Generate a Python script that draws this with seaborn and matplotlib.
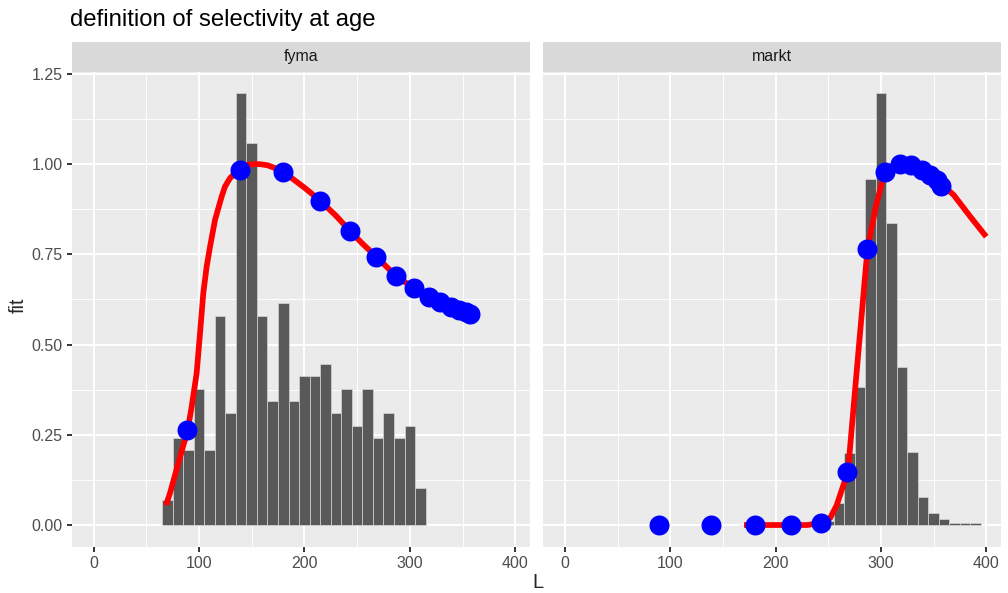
import numpy as np
import pandas as pd
import matplotlib
matplotlib.use("Agg")
import matplotlib.pyplot as plt
import seaborn as sns
from matplotlib.patches import Rectangle
from matplotlib.ticker import FixedLocator, FormatStrFormatter

# ---------------- data ----------------
panels = ["fyma", "markt"]

# histogram (scaled length distribution), bin centres and heights
fyma_bin_L = [70, 80, 90, 100, 110, 120, 130, 140, 150, 160, 170, 180, 190,
              200, 210, 220, 230, 240, 250, 260, 270, 280, 290, 300, 310]
fyma_bin_h = [0.069, 0.240, 0.208, 0.376, 0.208, 0.580, 0.311, 1.196, 1.058,
              0.580, 0.344, 0.616, 0.344, 0.413, 0.413, 0.445, 0.311, 0.376,
              0.274, 0.376, 0.242, 0.311, 0.242, 0.274, 0.103]

markt_bin_L = [170, 180, 190, 200, 210, 220, 230, 240, 250, 260, 270, 280,
               290, 300, 310, 320, 330, 340, 350, 360, 370, 380, 390]
markt_bin_h = [0.0, 0.0, 0.0, 0.0, 0.0, 0.0, 0.0, 0.0, 0.01, 0.06, 0.20, 0.383,
               0.959, 1.196, 0.836, 0.439, 0.201, 0.078, 0.034, 0.016, 0.005,
               0.005, 0.005]

# selectivity curves
fyma_curve_L = [68.7, 72.5, 80.4, 89.3, 93.1, 97.8, 101, 104.1, 107.3, 110.5,
                115.2, 118.4, 121.5, 124.7, 129.4, 134.2, 139, 145.3, 152, 158,
                165, 170.5, 180, 200, 215, 230, 243, 255, 268, 287, 304, 318,
                329, 339, 347, 353, 357]
fyma_curve_fit = [0.055, 0.088, 0.171, 0.263, 0.328, 0.42, 0.531, 0.642, 0.716,
                  0.771, 0.845, 0.878, 0.91, 0.938, 0.961, 0.975, 0.984, 0.998,
                  1.0, 1.0, 0.997, 0.991, 0.979, 0.935, 0.899, 0.857, 0.816,
                  0.78, 0.744, 0.69, 0.656, 0.633, 0.619, 0.605, 0.596, 0.59,
                  0.585]

markt_curve_L = [170, 200, 230, 244, 251.7, 258, 262.8, 268.7, 278, 287.2, 295,
                 302.3, 310, 318, 331, 340, 348, 360, 369, 385, 400]
markt_curve_fit = [0.0, 0.0, 0.0, 0.006, 0.019, 0.055, 0.097, 0.148, 0.46,
                   0.764, 0.88, 0.965, 0.995, 1.0, 0.998, 0.984, 0.97, 0.938,
                   0.915, 0.854, 0.799]

# selectivity at age (length at age)
age_L = [89, 139, 180, 215, 243, 268, 287, 304, 318, 329, 339, 347, 353, 357]
fyma_age_fit = [0.263, 0.984, 0.979, 0.899, 0.816, 0.744, 0.690, 0.656, 0.633,
                0.619, 0.605, 0.596, 0.590, 0.585]
markt_age_fit = [0.0, 0.0, 0.0, 0.0, 0.006, 0.148, 0.764, 0.977, 1.0, 0.998,
                 0.984, 0.970, 0.955, 0.940]

x_ticks = [0, 100, 200, 300, 400]
y_ticks = [0.0, 0.25, 0.5, 0.75, 1.0, 1.25]

# ---------------- style ----------------
sns.set_theme(style="darkgrid")
plt.rcParams['font.family'] = ['Liberation Sans', 'DejaVu Sans']

K = 1.36  # text/line scale relative to ggplot defaults
W, H = 1008, 593
fig = plt.figure(figsize=(W / 96, H / 96), dpi=96)
fig.patch.set_facecolor("white")

bottom_px, top_px = 546.6, 71.8
ax_left = fig.add_axes([71.7 / W, (H - bottom_px) / H, 458.3 / W, (bottom_px - top_px) / H])
ax_right = fig.add_axes([543.2 / W, (H - bottom_px) / H, 457.8 / W, (bottom_px - top_px) / H])

data = {
    "fyma": (fyma_bin_L, fyma_bin_h, fyma_curve_L, fyma_curve_fit, fyma_age_fit),
    "markt": (markt_bin_L, markt_bin_h, markt_curve_L, markt_curve_fit, markt_age_fit),
}

for ax, name in zip([ax_left, ax_right], panels):
    bins_L, bins_h, cL, cfit, afit = data[name]
    ax.set_facecolor("#EBEBEB")
    for s in ax.spines.values():
        s.set_visible(False)

    hist_df = pd.DataFrame({"L": bins_L, "h": bins_h})
    edges = [v - 5 for v in bins_L] + [bins_L[-1] + 5]
    sns.histplot(data=hist_df, x="L", weights="h", bins=edges, color="#595959",
                 alpha=1.0, edgecolor="#DADADA", linewidth=0.5, ax=ax, zorder=2)
    curve_df = pd.DataFrame({"L": cL, "fit": cfit})
    sns.lineplot(data=curve_df, x="L", y="fit", color="red", linewidth=4.3,
                 estimator=None, ax=ax, zorder=3, solid_capstyle="butt")
    pts_df = pd.DataFrame({"L": age_L, "fit": afit})
    sns.scatterplot(data=pts_df, x="L", y="fit", color="blue", s=225,
                    linewidth=0, ax=ax, zorder=4)

    ax.set_xlim(-20.7, 414.0)
    ax.set_ylim(-0.0598, 1.256)
    ax.xaxis.set_major_locator(FixedLocator(x_ticks))
    ax.xaxis.set_minor_locator(FixedLocator([50, 150, 250, 350]))
    ax.yaxis.set_major_locator(FixedLocator(y_ticks))
    ax.yaxis.set_minor_locator(FixedLocator([0.125, 0.375, 0.625, 0.875, 1.125]))
    ax.yaxis.set_major_formatter(FormatStrFormatter("%.2f"))
    ax.grid(which="major", color="white", linewidth=1.07 * K)
    ax.grid(which="minor", color="white", linewidth=0.53 * K)
    ax.set_axisbelow(True)
    ax.tick_params(which="major", length=2.75 * K, width=1.07 * K, color="#333333",
                   labelsize=8.8 * K, labelcolor="#4D4D4D", pad=2.2 * K,
                   bottom=True, left=True)
    ax.tick_params(which="minor", length=0)
    ax.set_xlabel("")
    ax.set_ylabel("")

    # facet strip
    strip_h = (top_px - 42.0) / (bottom_px - top_px)
    ax.add_patch(Rectangle((0, 1), 1, strip_h, transform=ax.transAxes,
                           facecolor="#D9D9D9", edgecolor="none", clip_on=False))
    ax.text(0.5, 1 + strip_h / 2, name, transform=ax.transAxes, ha="center",
            va="center", fontsize=8.8 * K, color="#1A1A1A")

ax_right.tick_params(axis="y", which="both", left=False, labelleft=False)

fig.text(70 / W, 1 - 20 / H, "definition of selectivity at age", fontsize=13.2 * K,
         ha="left", va="center", color="black")
fig.text(538 / W, 1 - 582 / H, "L", fontsize=11 * K, ha="center", va="center")
fig.text(18 / W, 1 - 305 / H, "fit", fontsize=11 * K, ha="center", va="center",
         rotation=90)

fig.savefig("out.png", dpi=96)
